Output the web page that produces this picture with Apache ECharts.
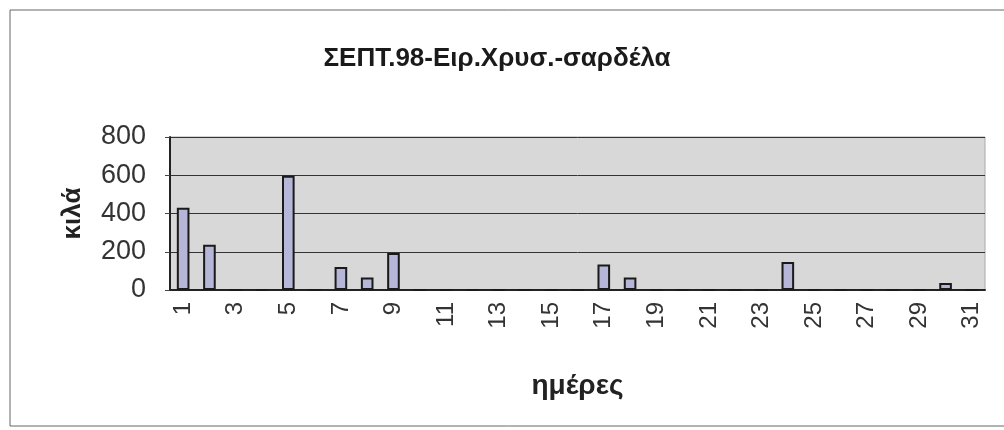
<!DOCTYPE html>
<html>
<head>
<meta charset="utf-8">
<script src="https://cdn.jsdelivr.net/npm/echarts@6/dist/echarts.min.js"></script>
<style>
	html, body { margin: 0; padding: 0; background: #fff; }
	#chart { width: 1004px; height: 430px; }
</style>
</head>
<body>
<div id="chart"></div>
<script>
//ημέρες του μήνα
var days = [];
for (var d = 1; d <= 31; d++) { days.push(String(d)); }
//κιλά ανά ημέρα (από την εικόνα)
var kilos = [430, 236, 0, 0, 597, 0, 120, 65, 193, 0, 0, 0, 0, 0, 0, 0, 133, 65, 0, 0, 0, 0, 0, 147, 0, 0, 0, 0, 0, 36, 0];
var yTicks = [0, 200, 400, 600, 800];

var chart = echarts.init(document.getElementById('chart'));
var option = {
	animation: false,
	textStyle: { fontFamily: 'Liberation Sans, Arial, sans-serif' },
	title: {
		text: 'ΣΕΠΤ.98-Ειρ.Χρυσ.-σαρδέλα',
		left: 492,
		textAlign: 'center',
		top: 41,
		textStyle: { fontSize: 26, fontWeight: 'bold', color: '#1a1a1a' }
	},
	graphic: [{
		type: 'rect',
		shape: { x: 10, y: 10, width: 1000, height: 416 },
		style: { fill: 'none', stroke: '#666', lineWidth: 1 },
		silent: true
	}],
	grid: {
		left: 170,
		right: 19,
		top: 137,
		bottom: 140,
		show: true,
		backgroundColor: '#d8d8d8',
		borderColor: '#aaa',
		borderWidth: 1
	},
	xAxis: {
		type: 'category',
		data: days,
		name: 'ημέρες',
		nameLocation: 'middle',
		nameGap: 82,
		nameTextStyle: { fontSize: 28, fontWeight: 'bold', color: '#222' },
		axisLine: { lineStyle: { color: '#222', width: 2 } },
		axisTick: { interval: 0, length: 5, lineStyle: { color: '#444' } },
		axisLabel: { interval: 1, rotate: 90, fontSize: 24, color: '#333', margin: 12 }
	},
	yAxis: {
		type: 'value',
		min: yTicks[0],
		max: yTicks[yTicks.length - 1],
		interval: 200,
		name: 'κιλά',
		nameLocation: 'middle',
		nameGap: 84,
		nameTextStyle: { fontSize: 26, fontWeight: 'bold', color: '#222' },
		axisLine: { show: true, lineStyle: { color: '#222', width: 2 } },
		axisTick: { show: true, length: 5, lineStyle: { color: '#444' } },
		axisLabel: { fontSize: 27, color: '#333', margin: 24 },
		splitLine: { lineStyle: { color: '#333', width: 1 } }
	},
	series: [{
		name: 'κιλά',
		type: 'bar',
		data: kilos,
		barWidth: '48%',
		itemStyle: { color: '#b6b6d8', borderColor: '#1a1a1a', borderWidth: 2 }
	}]
};
chart.setOption(option);
</script>
</body>
</html>
